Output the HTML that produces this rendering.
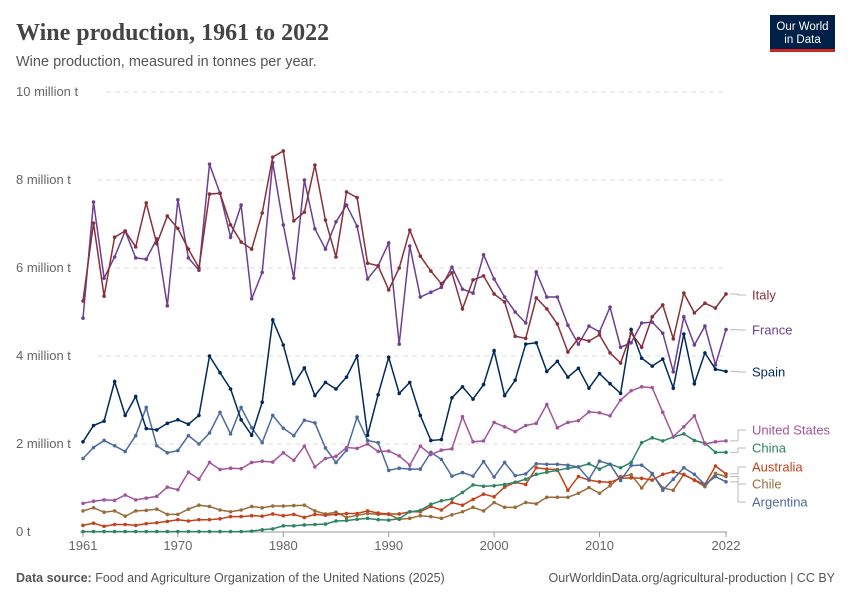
<!DOCTYPE html>
<html><head><meta charset="utf-8">
<style>
body{margin:0;background:#fff;font-family:"Liberation Sans",sans-serif;}
#wrap{position:relative;width:850px;height:600px;overflow:hidden;}
</style></head>
<body>
<div id="wrap">
<svg id="svg" width="850" height="600" xmlns="http://www.w3.org/2000/svg">
<text x="16" y="40" font-family="Liberation Serif,serif" font-size="24" font-weight="bold" fill="#444">Wine production, 1961 to 2022</text>
<text x="16" y="66" font-size="14.5" fill="#555">Wine production, measured in tonnes per year.</text>
<g>
<rect x="770" y="15" width="65" height="37" fill="#002147"/>
<rect x="770" y="49" width="65" height="3" fill="#ce261e"/>
<text x="802.5" y="30" font-size="11.5" fill="#fff" text-anchor="middle">Our World</text>
<text x="802.5" y="43" font-size="11.5" fill="#fff" text-anchor="middle">in Data</text>
</g>
<g id="grid"></g>
<g id="xaxis"></g>
<g id="series"></g>
<g id="labels"></g>
<text x="16" y="582" font-size="12.5" fill="#555"><tspan font-weight="bold">Data source:</tspan> Food and Agriculture Organization of the United Nations (2025)</text>
<text x="835" y="582" font-size="12.5" fill="#555" text-anchor="end">OurWorldinData.org/agricultural-production | CC BY</text>
</svg>
</div>
<script>
const years = [];
for (let y = 1961; y <= 2022; y++) years.push(y);
const yTicks = [0, 2, 4, 6, 8, 10];
const yTickLabels = ["0 t", "2 million t", "4 million t", "6 million t", "8 million t", "10 million t"];
const xTicks = [1961, 1970, 1980, 1990, 2000, 2010, 2022];
const italy = [5.25,7.02,5.36,6.7,6.84,6.48,7.48,6.55,7.18,6.9,6.43,6.0,7.68,7.7,6.98,6.59,6.43,7.25,8.52,8.66,7.07,7.27,8.34,7.09,6.25,7.73,7.6,6.11,6.05,5.5,6.0,6.86,6.27,5.93,5.64,5.89,5.07,5.73,5.82,5.41,5.23,4.45,4.4,5.32,5.07,4.73,4.09,4.4,4.34,4.48,4.07,3.84,4.52,4.2,4.89,5.16,4.39,5.43,4.98,5.2,5.09,5.41];
const france = [4.86,7.5,5.77,6.25,6.84,6.23,6.2,6.66,5.14,7.55,6.23,5.95,8.36,7.7,6.7,7.43,5.3,5.9,8.4,6.98,5.77,8.0,6.89,6.43,7.05,7.43,6.95,5.75,6.05,6.57,4.27,6.5,5.34,5.45,5.56,6.02,5.52,5.43,6.3,5.75,5.34,5.0,4.75,5.91,5.34,5.34,4.7,4.27,4.68,4.55,5.11,4.2,4.3,4.75,4.77,4.52,3.64,4.89,4.25,4.68,3.8,4.6];
const spain = [2.05,2.42,2.52,3.42,2.65,3.08,2.35,2.32,2.47,2.55,2.45,2.65,4.0,3.62,3.25,2.55,2.2,2.95,4.82,4.25,3.37,3.73,3.1,3.4,3.25,3.52,4.0,2.2,3.12,3.97,3.15,3.4,2.65,2.08,2.1,3.05,3.3,3.02,3.35,4.12,3.1,3.45,4.27,4.3,3.65,3.88,3.52,3.72,3.27,3.6,3.37,3.15,4.6,3.95,3.77,3.93,3.27,4.5,3.37,4.07,3.7,3.65];
const usa = [0.65,0.7,0.73,0.72,0.84,0.73,0.77,0.81,1.02,0.96,1.36,1.2,1.58,1.42,1.45,1.44,1.58,1.61,1.59,1.8,1.63,1.95,1.48,1.67,1.72,1.92,1.9,2.0,1.83,1.84,1.73,1.52,1.95,1.76,1.86,1.89,2.62,2.05,2.07,2.49,2.39,2.28,2.42,2.47,2.9,2.37,2.49,2.53,2.73,2.71,2.64,3.0,3.21,3.3,3.28,2.72,2.17,2.39,2.64,2.0,2.05,2.07];
const china = [0.01,0.01,0.01,0.01,0.01,0.01,0.01,0.01,0.01,0.01,0.01,0.01,0.01,0.01,0.01,0.01,0.02,0.05,0.07,0.14,0.14,0.16,0.17,0.18,0.25,0.26,0.29,0.31,0.28,0.27,0.3,0.46,0.49,0.63,0.71,0.75,0.9,1.07,1.04,1.05,1.08,1.13,1.2,1.31,1.36,1.4,1.45,1.48,1.55,1.43,1.54,1.46,1.58,2.03,2.14,2.07,2.16,2.23,2.08,2.02,1.81,1.81];
const australia = [0.15,0.2,0.13,0.17,0.17,0.15,0.19,0.21,0.24,0.28,0.25,0.28,0.28,0.3,0.35,0.35,0.37,0.36,0.41,0.37,0.4,0.33,0.4,0.38,0.4,0.42,0.42,0.48,0.43,0.41,0.41,0.46,0.46,0.58,0.5,0.67,0.61,0.74,0.86,0.8,1.02,1.13,1.08,1.46,1.43,1.42,0.95,1.26,1.18,1.14,1.13,1.22,1.23,1.22,1.18,1.31,1.37,1.3,1.18,1.08,1.5,1.32];
const chile = [0.48,0.55,0.45,0.48,0.36,0.48,0.49,0.52,0.4,0.4,0.52,0.61,0.58,0.5,0.46,0.5,0.58,0.55,0.59,0.59,0.6,0.61,0.48,0.41,0.45,0.33,0.38,0.42,0.4,0.4,0.29,0.31,0.37,0.35,0.31,0.39,0.46,0.56,0.48,0.67,0.56,0.56,0.67,0.64,0.79,0.79,0.79,0.88,1.01,0.88,1.05,1.26,1.3,1.0,1.31,1.0,0.95,1.31,1.18,1.03,1.33,1.26];
const argentina = [1.67,1.92,2.08,1.96,1.83,2.19,2.83,1.96,1.8,1.85,2.19,2.0,2.25,2.72,2.23,2.83,2.37,2.03,2.65,2.36,2.19,2.54,2.48,1.91,1.58,1.86,2.61,2.08,2.03,1.4,1.45,1.43,1.43,1.81,1.65,1.27,1.35,1.27,1.6,1.25,1.58,1.28,1.32,1.55,1.54,1.54,1.52,1.48,1.2,1.61,1.54,1.17,1.51,1.52,1.33,0.95,1.2,1.46,1.31,1.08,1.26,1.14];

const NS = "http://www.w3.org/2000/svg";
const X0 = 83, X1 = 726, Y0 = 532, Y1 = 92;
const xs = y => X0 + (y - 1961) * (X1 - X0) / (2022 - 1961);
const ys = v => Y0 - v * (Y0 - Y1) / 10;
function mk(tag, attrs, parent) { const e = document.createElementNS(NS, tag); for (const k in attrs) e.setAttribute(k, attrs[k]); parent.appendChild(e); return e; }

const grid = document.getElementById('grid');
yTicks.forEach((t, i) => {
  const y = ys(t);
  if (t > 0) {
    const l = mk('line', {x1: 16, x2: X1, y1: y, y2: y, stroke: '#ddd', 'stroke-dasharray': '5,4'}, grid);
    
    
  }
  mk('rect', {x: 14, y: y - 10, width: yTickLabels[i].length * 7.2 + 4, height: 14, fill: '#fff'}, grid);
  const tx = mk('text', {x: 16, y: y + 4, 'font-size': 13, fill: '#666'}, grid);
  tx.textContent = yTickLabels[i];
  
  
});
const xa = document.getElementById('xaxis');
mk('line', {x1: X0 - 3, x2: X1 + 1, y1: Y0, y2: Y0, stroke: '#999'}, xa);
xTicks.forEach(t => {
  const x = xs(t);
  mk('line', {x1: x, x2: x, y1: Y0, y2: Y0 + 5, stroke: '#999'}, xa);
  const tx = mk('text', {x: x, y: Y0 + 18, 'font-size': 13, fill: '#666', 'text-anchor': 'middle'}, xa);
  tx.textContent = t;
  
  
});

const series = [
  ['chile', chile, '#996D39', 'Chile', 484],
  ['australia', australia, '#C4421B', 'Australia', 467],
  ['china', china, '#2C8465', 'China', 448],
  ['argentina', argentina, '#4C6A9C', 'Argentina', 502],
  ['united-states', usa, '#A2559C', 'United States', 430],
  ['spain', spain, '#00295B', 'Spain', 372],
  ['france', france, '#6D3E91', 'France', 330],
  ['italy', italy, '#883039', 'Italy', 295]
];
const sg = document.getElementById('series');
const lg = document.getElementById('labels');
series.forEach(([key, vals, col, name, ly]) => {
  const g = mk('g', {}, sg);
  
  
  const pts = vals.map((v, i) => xs(years[i]).toFixed(1) + ',' + ys(v).toFixed(1)).join(' ');
  const pl = mk('polyline', {points: pts, fill: 'none', stroke: col, 'stroke-width': 1.5}, g);
  
  
  vals.forEach((v, i) => {
    const c = mk('circle', {cx: xs(years[i]), cy: ys(v), r: 1.8, fill: col}, g);
    
    
  });
  const lastY = ys(vals[vals.length - 1]);
  mk('polyline', {points: `${X1+4},${lastY} ${738},${lastY} ${738},${ly} ${746},${ly}`, fill: 'none', stroke: '#bbb', 'stroke-width': 1}, lg);
  const t = mk('text', {x: 752, y: ly + 4.5, 'font-size': 13, fill: col}, lg);
  t.textContent = name;
  
  
});
</script>
</body></html>
